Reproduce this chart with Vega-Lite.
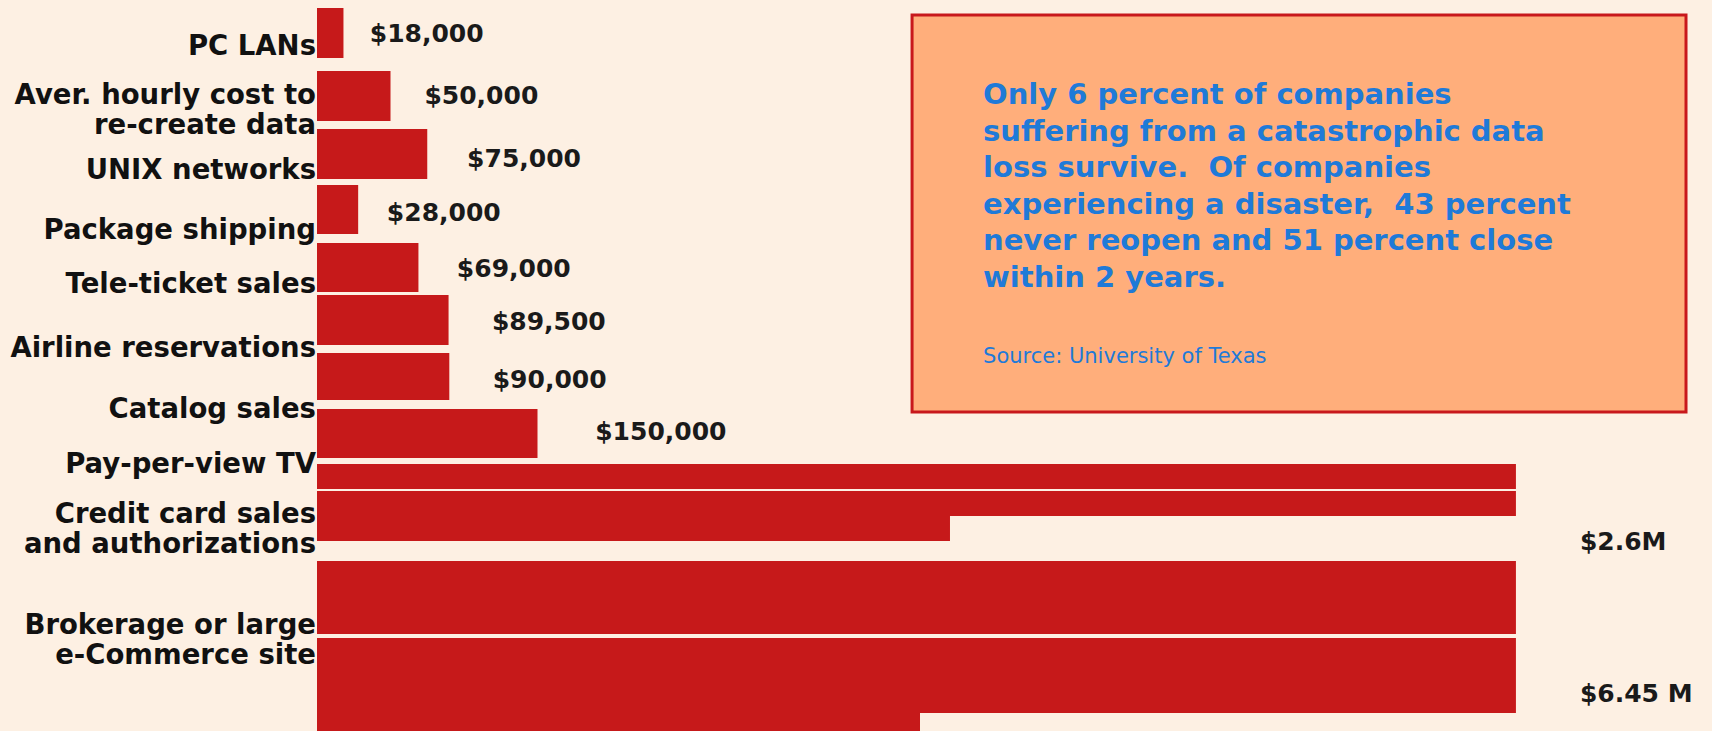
{
  "$schema": "https://vega.github.io/schema/vega-lite/v6.json",
  "width": 1712,
  "height": 731,
  "autosize": {"type": "none"},
  "padding": 0,
  "background": "#fdf0e3",
  "config": {"view": {"stroke": null}, "text": {"font": "DejaVu Sans"}},
  "datasets": {
    "bars": [
      {"category": "PC LANs", "part": 1, "from": 0, "to": 18, "top": 8, "bottom": 58},
      {"category": "Aver. hourly cost to re-create data", "part": 1, "from": 0, "to": 50, "top": 71, "bottom": 121},
      {"category": "UNIX networks", "part": 1, "from": 0, "to": 75, "top": 129, "bottom": 179},
      {"category": "Package shipping", "part": 1, "from": 0, "to": 28, "top": 185, "bottom": 234},
      {"category": "Tele-ticket sales", "part": 1, "from": 0, "to": 69, "top": 243, "bottom": 292},
      {"category": "Airline reservations", "part": 1, "from": 0, "to": 89.5, "top": 295, "bottom": 345},
      {"category": "Catalog sales", "part": 1, "from": 0, "to": 90, "top": 353, "bottom": 400},
      {"category": "Pay-per-view TV", "part": 1, "from": 0, "to": 150, "top": 409, "bottom": 458},
      {"category": "Credit card sales and authorizations", "part": 1, "from": 0, "to": 815.6, "top": 464, "bottom": 489},
      {"category": "Credit card sales and authorizations", "part": 2, "from": 0, "to": 815.6, "top": 491, "bottom": 516},
      {"category": "Credit card sales and authorizations", "part": 3, "from": 0, "to": 430.6, "top": 516, "bottom": 541},
      {"category": "Brokerage or large e-Commerce site", "part": 1, "from": 0, "to": 815.6, "top": 561, "bottom": 634},
      {"category": "Brokerage or large e-Commerce site", "part": 2, "from": 0, "to": 815.6, "top": 638, "bottom": 713},
      {"category": "Brokerage or large e-Commerce site", "part": 3, "from": 0, "to": 410.2, "top": 713, "bottom": 731}
    ],
    "labels": [
      {"name": "PC LANs", "cat_y": 44, "value_text": "$18,000", "value": 18, "value_y": 34},
      {"name": "Aver. hourly cost to\nre-create data", "cat_y": 93, "value_text": "$50,000", "value": 50, "value_y": 96},
      {"name": "UNIX networks", "cat_y": 168, "value_text": "$75,000", "value": 75, "value_y": 159},
      {"name": "Package shipping", "cat_y": 228, "value_text": "$28,000", "value": 28, "value_y": 213},
      {"name": "Tele-ticket sales", "cat_y": 282, "value_text": "$69,000", "value": 69, "value_y": 269},
      {"name": "Airline reservations", "cat_y": 346, "value_text": "$89,500", "value": 89.5, "value_y": 322},
      {"name": "Catalog sales", "cat_y": 407, "value_text": "$90,000", "value": 90, "value_y": 380},
      {"name": "Pay-per-view TV", "cat_y": 462, "value_text": "$150,000", "value": 150, "value_y": 432},
      {"name": "Credit card sales\nand authorizations", "cat_y": 512.5, "value_text": "$2.6M", "value": 2600, "value_y": 542, "wrap": 815.6},
      {"name": "Brokerage or large\ne-Commerce site", "cat_y": 623.5, "value_text": "$6.45 M", "value": 6450, "value_y": 694, "wrap": 815.6}
    ],
    "note": [
      {"x0": 404.8, "x1": 931.3, "y0": 15, "y1": 412, "text_x": 453.1, "text_y": 104, "source_y": 363,
       "body": "Only 6 percent of companies\nsuffering from a catastrophic data\nloss survive.\u00a0 Of companies\nexperiencing a disaster,\u00a0 43 percent\nnever reopen and 51 percent close\nwithin 2 years.",
       "source": "Source: University of Texas"}
    ]
  },
  "resolve": {"scale": {"x": "independent"}},
  "layer": [
    {
      "data": {"name": "note"},
      "mark": {"type": "rect", "fill": "#ffae7b", "stroke": "#c8181c", "strokeWidth": 3},
      "encoding": {
        "x": {"field": "x0", "type": "quantitative", "axis": null, "scale": {"domain": [-215.65, 948.98], "nice": false, "zero": false}},
        "x2": {"field": "x1"},
        "y": {"field": "y0", "type": "quantitative", "axis": null, "scale": {"domain": [0, 731], "reverse": true, "nice": false, "zero": false}},
        "y2": {"field": "y1"}
      }
    },
    {
      "data": {"name": "note"},
      "mark": {"type": "text", "align": "left", "baseline": "alphabetic", "color": "#1f7ad8", "fontSize": 29, "fontWeight": "bold", "lineHeight": 36.5, "lineBreak": "\n"},
      "encoding": {
        "x": {"field": "text_x", "type": "quantitative", "axis": null, "scale": {"domain": [-215.65, 948.98], "nice": false, "zero": false}},
        "y": {"field": "text_y", "type": "quantitative", "axis": null, "scale": {"domain": [0, 731], "reverse": true, "nice": false, "zero": false}},
        "text": {"field": "body"}
      }
    },
    {
      "data": {"name": "note"},
      "mark": {"type": "text", "align": "left", "baseline": "alphabetic", "color": "#1f7ad8", "fontSize": 21},
      "encoding": {
        "x": {"field": "text_x", "type": "quantitative", "axis": null, "scale": {"domain": [-215.65, 948.98], "nice": false, "zero": false}},
        "y": {"field": "source_y", "type": "quantitative", "axis": null, "scale": {"domain": [0, 731], "reverse": true, "nice": false, "zero": false}},
        "text": {"field": "source"}
      }
    },
    {
      "data": {"name": "bars"},
      "mark": {"type": "rect", "fill": "#c6191a"},
      "encoding": {
        "x": {"field": "from", "type": "quantitative", "axis": null, "scale": {"domain": [-215.65, 948.98], "nice": false, "zero": false}},
        "x2": {"field": "to"},
        "y": {"field": "top", "type": "quantitative", "axis": null, "scale": {"domain": [0, 731], "reverse": true, "nice": false, "zero": false}},
        "y2": {"field": "bottom"}
      }
    },
    {
      "data": {"name": "labels"},
      "mark": {"type": "text", "align": "right", "baseline": "middle", "dx": -1, "dy": 2.5, "color": "#111111", "fontSize": 27.5, "fontWeight": "bold", "lineHeight": 30, "lineBreak": "\n"},
      "encoding": {
        "x": {"datum": 0, "type": "quantitative", "axis": null, "scale": {"domain": [-215.65, 948.98], "nice": false, "zero": false}},
        "y": {"field": "cat_y", "type": "quantitative", "axis": null, "scale": {"domain": [0, 731], "reverse": true, "nice": false, "zero": false}},
        "text": {"field": "name"}
      }
    },
    {
      "data": {"name": "labels"},
      "transform": [{"filter": "datum.value < 1000"}],
      "mark": {"type": "text", "align": "left", "baseline": "middle", "color": "#1a1a1a", "fontSize": 25, "fontWeight": "bold"},
      "encoding": {
        "x": {"field": "value", "type": "quantitative", "axis": null, "scale": {"domain": [-198.5, 803.9], "nice": false, "zero": false}},
        "y": {"field": "value_y", "type": "quantitative", "axis": null, "scale": {"domain": [0, 731], "reverse": true, "nice": false, "zero": false}},
        "text": {"field": "value_text"}
      }
    },
    {
      "data": {"name": "labels"},
      "transform": [{"filter": "datum.value >= 1000"}],
      "mark": {"type": "text", "align": "left", "baseline": "middle", "dx": 64, "color": "#1a1a1a", "fontSize": 25, "fontWeight": "bold"},
      "encoding": {
        "x": {"field": "wrap", "type": "quantitative", "axis": null, "scale": {"domain": [-215.65, 948.98], "nice": false, "zero": false}},
        "y": {"field": "value_y", "type": "quantitative", "axis": null, "scale": {"domain": [0, 731], "reverse": true, "nice": false, "zero": false}},
        "text": {"field": "value_text"}
      }
    }
  ]
}
